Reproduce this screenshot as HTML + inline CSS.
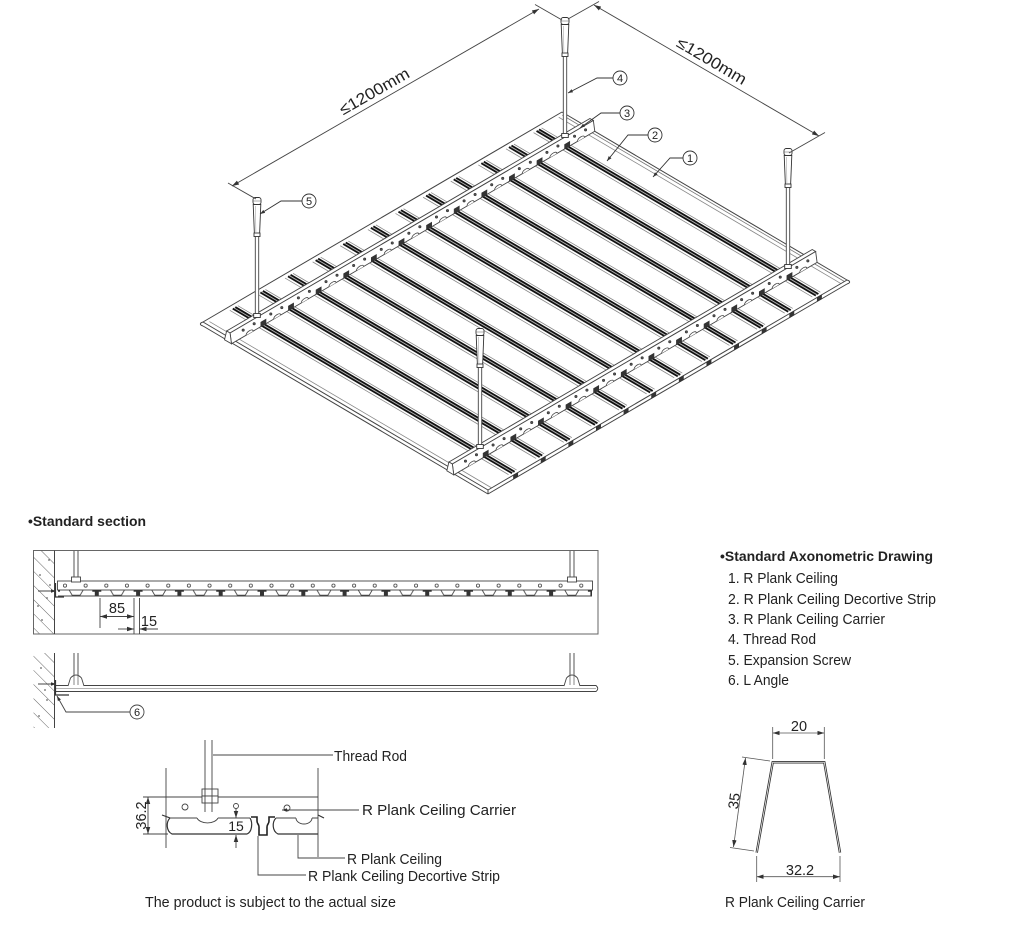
<!DOCTYPE html>
<html><head><meta charset="utf-8">
<style>
html,body{margin:0;padding:0;background:#fff}
svg{display:block}
.ns{vector-effect:non-scaling-stroke}
text{font-family:"Liberation Sans",Arial,sans-serif;fill:#222}
</style></head>
<body>
<svg width="1024" height="930" viewBox="0 0 1024 930" xmlns="http://www.w3.org/2000/svg">
<defs>
 <marker id="ar" viewBox="0 0 10 10" refX="10" refY="5" markerWidth="7" markerHeight="7" orient="auto-start-reverse" markerUnits="userSpaceOnUse"><path d="M0,1.8 L10,5 L0,8.2 z" fill="#333"/></marker>
 <marker id="ar2" viewBox="0 0 10 10" refX="10" refY="5" markerWidth="5" markerHeight="5" orient="auto-start-reverse" markerUnits="userSpaceOnUse"><path d="M0,1.5 L10,5 L0,8.5 z" fill="#333"/></marker>
 <pattern id="hatch" width="10" height="10" patternUnits="userSpaceOnUse" patternTransform="rotate(45)"><line x1="0" y1="0" x2="10" y2="0" stroke="#555" stroke-width="0.9"/></pattern>
 <pattern id="holes" x="54.675" y="581" width="20.65" height="10" patternUnits="userSpaceOnUse"><circle cx="10.325" cy="4.6" r="1.6" fill="none" stroke="#444" stroke-width="0.8"/></pattern>
 <pattern id="teeth" x="55.5" y="590" width="41.3" height="8" patternUnits="userSpaceOnUse">
  <path d="M13.65,0 L16.65,5.2 L24.65,5.2 L27.65,0" fill="none" stroke="#444" stroke-width="0.9"/>
  <path d="M-4.5,0 h9 v1.8 h-2.5 v4.4 h-4 v-4.4 h-2.5 z" fill="#333"/>
  <path d="M36.8,0 h9 v1.8 h-2.5 v4.4 h-4 v-4.4 h-2.5 z" fill="#333"/>
 </pattern>
 <g id="st" fill="none">
  <line class="ns" x1="0.012" y1="-0.0105" x2="0.99" y2="-0.0105" stroke="#8a8a8a" stroke-width="0.8"/>
  <line class="ns" x1="0.012" y1="0.0118" x2="0.99" y2="0.0118" stroke="#8a8a8a" stroke-width="0.8"/>
  <line class="ns" x1="0.012" y1="-0.0035" x2="0.992" y2="-0.0035" stroke="#111" stroke-width="1.9"/>
  <line class="ns" x1="0.012" y1="0.0035" x2="0.992" y2="0.0035" stroke="#111" stroke-width="1.9"/>
  <line class="ns" x1="0.012" y1="0" x2="0.992" y2="0" stroke="#aaa" stroke-width="0.9"/>
 </g>
 <g id="unitA">
  <circle cx="585.55" cy="129.88" r="1.2" fill="#555" stroke="#333" stroke-width="0.6"/>
  <circle cx="574.55" cy="136.28" r="1.2" fill="#555" stroke="#333" stroke-width="0.6"/>
  <path d="M584.47,137.35 C584.47,133.9 577.47,137.9 577.47,141.45" fill="#fff" stroke="#444" stroke-width="0.8"/>
  <circle cx="807.85" cy="260.92" r="1.2" fill="#555" stroke="#333" stroke-width="0.6"/>
  <circle cx="796.85" cy="267.32" r="1.2" fill="#555" stroke="#333" stroke-width="0.6"/>
  <path d="M806.77,268.39 C806.77,264.94 799.77,268.94 799.77,272.49" fill="#fff" stroke="#444" stroke-width="0.8"/>
 </g>
 <g id="unitB">
  <polygon points="569.76,145.96 569.76,141.46 564.58,144.49 564.58,148.99" fill="#333" stroke="#333" stroke-width="0.6"/>
  <polygon points="792.06,277.0 792.06,272.5 786.88,275.53 786.88,280.03" fill="#333" stroke="#333" stroke-width="0.6"/>
  <polygon points="821.55,294.89 817.23,297.41 817.23,301.41 821.55,298.89" fill="#333" stroke="#333" stroke-width="0.6"/>
 </g>
 <g id="rod">
  <rect x="-1.7" y="38" width="3.4" height="80" fill="#fff" stroke="#444" stroke-width="0.9"/>
  <path d="M-3.8,6.5 L3.8,6.5 L2.6,36 L-2.6,36 Z" fill="#fff" stroke="#333" stroke-width="0.9"/>
  <path d="M-1.6,8 L-1.1,34" stroke="#aaa" stroke-width="0.6"/>
  <rect x="-3" y="35" width="6" height="3.5" fill="#fff" stroke="#333" stroke-width="0.9"/>
  <rect x="-4" y="-0.5" width="8" height="7" rx="2.2" fill="#fff" stroke="#333" stroke-width="0.9"/>
  <line x1="-4" y1="3" x2="4" y2="3" stroke="#777" stroke-width="0.6"/>
  <rect x="-3.3" y="115.5" width="6.6" height="4" fill="#fff" stroke="#333" stroke-width="0.9"/>
 </g>
</defs>

<!-- ============ ISOMETRIC VIEW ============ -->
<g transform="matrix(285,168,-359,210,562,112)" fill="none" stroke="#444">
 <line class="ns" x1="0" y1="0" x2="1" y2="0" stroke-width="1"/>
 <line class="ns" x1="0.01" y1="0.007" x2="1" y2="0.007" stroke="#777" stroke-width="0.8"/>
 <line class="ns" x1="0.01" y1="0.017" x2="1" y2="0.017" stroke="#888" stroke-width="0.8"/>
 <line class="ns" x1="0" y1="1" x2="1" y2="1" stroke-width="1"/>
 <line class="ns" x1="0.01" y1="0.99" x2="1" y2="0.99" stroke="#888" stroke-width="0.8"/>
 <line class="ns" x1="1" y1="0" x2="1" y2="1" stroke-width="1"/>
 <line class="ns" x1="0" y1="0" x2="0" y2="1" stroke-width="1"/>
 <use href="#st" y="0.076923"/>
 <use href="#st" y="0.153846"/>
 <use href="#st" y="0.230769"/>
 <use href="#st" y="0.307692"/>
 <use href="#st" y="0.384615"/>
 <use href="#st" y="0.461538"/>
 <use href="#st" y="0.538462"/>
 <use href="#st" y="0.615385"/>
 <use href="#st" y="0.692308"/>
 <use href="#st" y="0.769231"/>
 <use href="#st" y="0.846154"/>
 <use href="#st" y="0.923077"/>
</g>
<!-- panel thickness lines and corners -->
<g fill="none" stroke="#444" stroke-width="1">
 <line x1="847" y1="284" x2="488" y2="494"/>
 <line x1="203" y1="326" x2="488" y2="494"/>
 <path d="M847,280 C850.5,281 850.5,283 847,284"/>
 <path d="M203,322 C199.5,323 199.5,325 203,326"/>
 <line x1="488" y1="490" x2="488" y2="494"/>
</g>

<!-- carriers -->
<g stroke="#444" stroke-width="0.9" fill="#fff">
 <polygon points="589.93,118.46 593.35,120.48 230.05,332.98 226.63,330.96"/>
 <polygon points="593.35,120.48 594.78,131.32 231.48,343.82 230.05,332.98"/>
 <polygon points="226.63,330.96 230.05,332.98 231.48,343.82 224.5,339.8"/>
 <polygon points="812.23,249.5 815.65,251.52 452.35,464.02 448.93,461.99"/>
 <polygon points="815.65,251.52 817.08,262.36 453.78,474.86 452.35,464.02"/>
 <polygon points="448.93,461.99 452.35,464.02 453.78,474.86 446.8,470.8"/>
</g>
<g>
 <use href="#unitA"/>
 <use href="#unitA" x="-27.615" y="16.154"/>
 <use href="#unitA" x="-55.23" y="32.308"/>
 <use href="#unitA" x="-82.845" y="48.462"/>
 <use href="#unitA" x="-110.46" y="64.616"/>
 <use href="#unitA" x="-138.075" y="80.77"/>
 <use href="#unitA" x="-165.69" y="96.924"/>
 <use href="#unitA" x="-193.305" y="113.078"/>
 <use href="#unitA" x="-220.92" y="129.232"/>
 <use href="#unitA" x="-248.535" y="145.386"/>
 <use href="#unitA" x="-276.15" y="161.54"/>
 <use href="#unitA" x="-303.765" y="177.694"/>
 <use href="#unitA" x="-331.38" y="193.848"/>
 <use href="#unitB"/>
 <use href="#unitB" x="-27.615" y="16.154"/>
 <use href="#unitB" x="-55.23" y="32.308"/>
 <use href="#unitB" x="-82.845" y="48.462"/>
 <use href="#unitB" x="-110.46" y="64.616"/>
 <use href="#unitB" x="-138.075" y="80.77"/>
 <use href="#unitB" x="-165.69" y="96.924"/>
 <use href="#unitB" x="-193.305" y="113.078"/>
 <use href="#unitB" x="-220.92" y="129.232"/>
 <use href="#unitB" x="-248.535" y="145.386"/>
 <use href="#unitB" x="-276.15" y="161.54"/>
 <use href="#unitB" x="-303.765" y="177.694"/>
</g>

<!-- rods -->
<use href="#rod" x="565" y="18"/>
<use href="#rod" x="257" y="198"/>
<use href="#rod" x="788" y="149"/>
<use href="#rod" x="480" y="329"/>

<!-- dimension lines -->
<g stroke="#444" stroke-width="0.9" fill="none">
 <line x1="256" y1="199" x2="228" y2="183"/>
 <line x1="562" y1="20" x2="535" y2="4.5"/>
 <line x1="232" y1="186" x2="539" y2="9" marker-start="url(#ar)" marker-end="url(#ar)"/>
 <line x1="568" y1="19" x2="599" y2="1.5"/>
 <line x1="789" y1="153" x2="825" y2="132.5"/>
 <line x1="594" y1="5" x2="819" y2="136" marker-start="url(#ar)" marker-end="url(#ar)"/>
</g>
<text transform="translate(377,96) rotate(-29.8)" text-anchor="middle" font-size="16" textLength="78" lengthAdjust="spacingAndGlyphs">≤1200mm</text>
<text transform="translate(709,65.5) rotate(30.4)" text-anchor="middle" font-size="16" textLength="78" lengthAdjust="spacingAndGlyphs">≤1200mm</text>

<!-- callouts -->
<g stroke="#333" stroke-width="0.9" fill="none">
 <path d="M683,158 H670 L653,177" marker-end="url(#ar2)"/>
 <path d="M648,135 H628 L607,161" marker-end="url(#ar2)"/>
 <path d="M620,113 H601 L580,128" marker-end="url(#ar2)"/>
 <path d="M613,78 H597 L568,93" marker-end="url(#ar2)"/>
 <path d="M302,201 H281 L260,214" marker-end="url(#ar2)"/>
 <circle cx="690" cy="158" r="7" fill="#fff"/>
 <circle cx="655" cy="135" r="7" fill="#fff"/>
 <circle cx="627" cy="113" r="7" fill="#fff"/>
 <circle cx="620" cy="78" r="7" fill="#fff"/>
 <circle cx="309" cy="201" r="7" fill="#fff"/>
</g>
<g font-size="11" text-anchor="middle">
 <text x="690" y="162">1</text>
 <text x="655" y="139">2</text>
 <text x="627" y="117">3</text>
 <text x="620" y="82">4</text>
 <text x="309" y="205">5</text>
</g>

<!-- ============ STANDARD SECTION ============ -->
<text x="28" y="526" font-size="13.5" font-weight="bold" textLength="118" lengthAdjust="spacingAndGlyphs">•Standard section</text>

<!-- section A -->
<rect x="33.5" y="550.5" width="564.5" height="83.5" fill="none" stroke="#666" stroke-width="1"/>
<rect x="33.5" y="550.5" width="21" height="83.5" fill="url(#hatch)"/>
<line x1="54.5" y1="550.5" x2="54.5" y2="634" stroke="#444"/>
<g fill="#666"><circle cx="40" cy="575" r="0.9"/><circle cx="47" cy="598" r="0.9"/><circle cx="42" cy="620" r="0.9"/><circle cx="49" cy="560" r="0.9"/><circle cx="38" cy="606" r="0.9"/><circle cx="50" cy="585" r="0.9"/></g>
<g stroke="#444" stroke-width="0.9" fill="none">
 <path d="M74,551 V578 M78,551 V578 M570,551 V578 M574,551 V578"/>
 <rect x="57.5" y="581" width="535" height="9" fill="#fff"/>
 <rect x="58" y="581" width="534" height="9" fill="url(#holes)" stroke="none"/>
 <rect x="58" y="590" width="534" height="8" fill="url(#teeth)" stroke="none"/>
 <line x1="58" y1="596" x2="592" y2="596"/>
 <rect x="71.5" y="577" width="9" height="5" fill="#fff"/>
 <rect x="567.5" y="577" width="9" height="5" fill="#fff"/>
 <path d="M55.5,583 V597 H64" stroke="#333" stroke-width="1.2"/>
 <line x1="38" y1="591" x2="56" y2="591" marker-end="url(#ar2)"/>
 <path d="M100,598 V628 M134,598 V634 M139.5,598 V634"/>
 <line x1="100" y1="616.5" x2="134" y2="616.5" marker-start="url(#ar)" marker-end="url(#ar)"/>
 <line x1="118" y1="629" x2="134" y2="629" marker-end="url(#ar)"/>
 <line x1="158" y1="629" x2="139.5" y2="629" marker-end="url(#ar)"/>
</g>
<text x="117" y="613" font-size="14.5" text-anchor="middle">85</text>
<text x="149" y="626" font-size="14.5" text-anchor="middle">15</text>

<!-- section B -->
<rect x="33.5" y="653" width="21" height="75" fill="url(#hatch)"/>
<line x1="54.5" y1="653" x2="54.5" y2="728" stroke="#444"/>
<g fill="#666"><circle cx="41" cy="668" r="0.9"/><circle cx="47" cy="700" r="0.9"/><circle cx="39" cy="716" r="0.9"/><circle cx="45" cy="690" r="0.9"/></g>
<g stroke="#444" stroke-width="0.9" fill="none">
 <path d="M74,653 V677 M78,653 V677 M570,653 V677 M574,653 V677"/>
 <path d="M55,685.5 H596 Q599.5,688.5 596,691.5 H55"/>
 <line x1="56" y1="688.5" x2="596" y2="688.5" stroke="#999" stroke-width="0.7"/>
 <path d="M68,686 L70.5,678 Q76,672 81.5,678 L84,686" fill="#fff"/>
 <path d="M564,686 L566.5,678 Q572,672 577.5,678 L580,686" fill="#fff"/>
 <path d="M74,674 V685 M78,674 V685 M570,674 V685 M574,674 V685" stroke="#555" stroke-width="0.7"/>
 <path d="M55.5,680 V695 H69" stroke="#333" stroke-width="1.2"/>
 <line x1="38" y1="684" x2="56" y2="684" marker-end="url(#ar2)"/>
 <path d="M130,712 H66 L57,696" marker-end="url(#ar2)"/>
 <circle cx="137" cy="712" r="7" fill="#fff"/>
</g>
<text x="137" y="716" font-size="11" text-anchor="middle">6</text>

<!-- section C (detail) -->
<g stroke="#444" stroke-width="0.9" fill="none">
 <path d="M166,768 V848 M318,768 V857 M143,797 H318 M143,834 H168"/>
 <line x1="148" y1="797" x2="148" y2="834" marker-start="url(#ar)" marker-end="url(#ar)"/>
 <rect x="202" y="789" width="16" height="7" fill="#fff"/>
 <rect x="202" y="796" width="16" height="7" fill="#fff"/>
 <path d="M205,740 V812 M212,740 V812"/>
 <circle cx="185" cy="807" r="3"/>
 <circle cx="236" cy="806" r="2.5"/>
 <circle cx="287" cy="808" r="3"/>
 <path d="M162,815 L170,818 C166,822 166,831 172,834 L247,834 C252,832 253,823 250,818" stroke="#333" stroke-width="1.2"/>
 <path d="M251,817 H257 V821 C257,824 259,824 259,827 V835 H267 V827 C267,824 269,824 269,821 V817 H275" stroke="#222" stroke-width="1.6"/>
 <path d="M276,818 C272,822 272,831 278,834 L318,834 M318,815 L324,818" stroke="#333" stroke-width="1.2"/>
 <path d="M170,818 H197 M218,818 H250 M276,818 H296 M312,818 H318"/>
 <path d="M197,818 A11,7 0 0 0 218,818 M296,818 A8,6 0 0 0 312,818"/>
 <line x1="236" y1="809" x2="236" y2="818" marker-end="url(#ar)"/>
 <line x1="236" y1="848" x2="236" y2="835" marker-end="url(#ar)"/>
 <path d="M213,755 H333"/>
 <path d="M282,810 H359" marker-start="url(#ar2)"/>
 <path d="M298,835 V858 H345"/>
 <path d="M258,836 V875 H306"/>
</g>
<text transform="translate(141,815.5) rotate(-90)" y="5" font-size="14.5" text-anchor="middle">36.2</text>
<text x="236" y="831" font-size="14" text-anchor="middle">15</text>
<g font-size="14.5">
 <text x="334" y="761" textLength="73" lengthAdjust="spacingAndGlyphs">Thread Rod</text>
 <text x="362" y="815" textLength="154" lengthAdjust="spacingAndGlyphs">R Plank Ceiling Carrier</text>
 <text x="347" y="864" textLength="95" lengthAdjust="spacingAndGlyphs">R Plank Ceiling</text>
 <text x="308" y="881" textLength="192" lengthAdjust="spacingAndGlyphs">R Plank Ceiling Decortive Strip</text>
 <text x="145" y="907" textLength="251" lengthAdjust="spacingAndGlyphs">The product is subject to the actual size</text>
</g>

<!-- ============ RIGHT SIDE ============ -->
<text x="720" y="561" font-size="14" font-weight="bold" textLength="213" lengthAdjust="spacingAndGlyphs">•Standard Axonometric Drawing</text>
<g font-size="14.5">
 <text x="728" y="583" textLength="110" lengthAdjust="spacingAndGlyphs">1. R Plank Ceiling</text>
 <text x="728" y="604" textLength="208" lengthAdjust="spacingAndGlyphs">2. R Plank Ceiling Decortive Strip</text>
 <text x="728" y="624" textLength="157" lengthAdjust="spacingAndGlyphs">3. R Plank Ceiling Carrier</text>
 <text x="728" y="644" textLength="88" lengthAdjust="spacingAndGlyphs">4. Thread Rod</text>
 <text x="728" y="665" textLength="123" lengthAdjust="spacingAndGlyphs">5. Expansion Screw</text>
 <text x="728" y="685" textLength="61" lengthAdjust="spacingAndGlyphs">6. L Angle</text>
</g>

<!-- carrier profile -->
<path d="M756.7,852.7 L772.7,762.3 L824.3,762.3 L840,852.7" stroke="#333" stroke-width="2.4" fill="none" stroke-linejoin="miter"/>
<path d="M756.7,852.7 L772.7,762.3 L824.3,762.3 L840,852.7" stroke="#fff" stroke-width="0.7" fill="none"/>
<g stroke="#555" stroke-width="0.8" fill="none">
 <path d="M772.7,727 V759 M824.3,727 V759"/>
 <line x1="772.7" y1="733" x2="824.3" y2="733" marker-start="url(#ar)" marker-end="url(#ar)"/>
 <path d="M770,761 L742,757 M754,851 L730,847.5"/>
 <line x1="745.5" y1="758" x2="733.5" y2="847" marker-start="url(#ar)" marker-end="url(#ar)"/>
 <path d="M756.7,856 V882 M840,856 V882"/>
 <line x1="756.7" y1="876.7" x2="840" y2="876.7" marker-start="url(#ar)" marker-end="url(#ar)"/>
</g>
<text x="799" y="731" font-size="14.5" text-anchor="middle">20</text>
<text transform="translate(734,801) rotate(-82.3)" y="5" font-size="14.5" text-anchor="middle">35</text>
<text x="800" y="875" font-size="14.5" text-anchor="middle">32.2</text>
<text x="725" y="907" font-size="14.5" textLength="140" lengthAdjust="spacingAndGlyphs">R Plank Ceiling Carrier</text>
</svg>
</body></html>
